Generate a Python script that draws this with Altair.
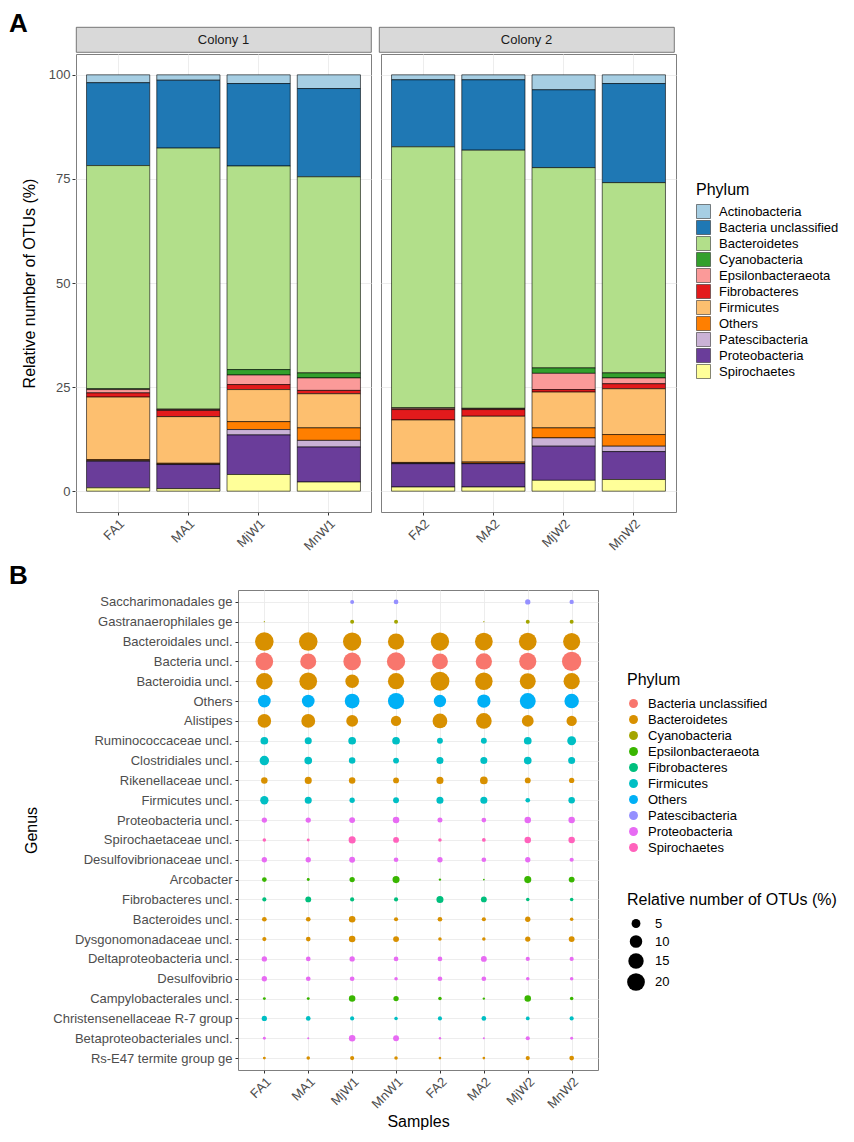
import altair as alt
import pandas as pd

FONT = "Liberation Sans"

samples = ["FA1", "MA1", "MjW1", "MnW1", "FA2", "MA2", "MjW2", "MnW2"]
colonies = ["Colony 1"] * 4 + ["Colony 2"] * 4

# ---------- Panel A: relative number of OTUs per phylum (%) ----------
phyla_a = ["Actinobacteria", "Bacteria unclassified", "Bacteroidetes", "Cyanobacteria",
           "Epsilonbacteraeota", "Fibrobacteres", "Firmicutes", "Others",
           "Patescibacteria", "Proteobacteria", "Spirochaetes"]
colors_a = ["#A6CEE3", "#1F78B4", "#B2DF8A", "#33A02C", "#FB9A99", "#E31A1C",
            "#FDBF6F", "#FF7F00", "#CAB2D6", "#6A3D9A", "#FFFF99"]

actinobacteria = [1.9, 1.3, 2.1, 3.3, 1.2, 1.2, 3.6, 2.1]
bacteria_unclassified = [19.9, 16.3, 19.8, 21.2, 16.1, 16.9, 18.7, 23.8]
bacteroidetes = [53.6, 62.7, 48.9, 47.1, 62.7, 62.0, 48.1, 45.7]
cyanobacteria = [0.2, 0.1, 1.3, 1.2, 0.1, 0.1, 1.3, 1.2]
epsilonbacteraeota = [0.8, 0.2, 2.3, 3.0, 0.3, 0.2, 3.9, 1.4]
fibrobacteres = [1.0, 1.5, 1.2, 0.8, 2.5, 1.6, 0.6, 1.2]
firmicutes = [15.0, 11.2, 7.7, 8.2, 10.2, 11.0, 8.6, 11.0]
others = [0.3, 0.2, 1.9, 3.0, 0.2, 0.3, 2.4, 2.8]
patescibacteria = [0.1, 0.1, 1.3, 1.6, 0.1, 0.1, 2.0, 1.3]
proteobacteria = [6.4, 5.8, 9.5, 8.4, 5.6, 5.6, 8.2, 6.7]
spirochaetes = [0.8, 0.6, 4.0, 2.2, 1.0, 1.0, 2.6, 2.8]

series_a = [actinobacteria, bacteria_unclassified, bacteroidetes, cyanobacteria,
            epsilonbacteraeota, fibrobacteres, firmicutes, others,
            patescibacteria, proteobacteria, spirochaetes]

rows_a = []
for k, (ph, vals) in enumerate(zip(phyla_a, series_a)):
    for s, c, v in zip(samples, colonies, vals):
        rows_a.append({"sample": s, "colony": c, "phylum": ph, "ord": k, "value": v})
df_a = pd.DataFrame(rows_a)

# ---------- Panel B: genus bubble chart ----------
phyla_b = ["Bacteria unclassified", "Bacteroidetes", "Cyanobacteria", "Epsilonbacteraeota",
           "Fibrobacteres", "Firmicutes", "Others", "Patescibacteria", "Proteobacteria",
           "Spirochaetes"]
colors_b = ["#F8766D", "#D89000", "#A3A500", "#39B600", "#00BF7D", "#00BFC4",
            "#00B0F6", "#9590FF", "#E76BF3", "#FF62BC"]

genera = ["Saccharimonadales ge", "Gastranaerophilales ge", "Bacteroidales uncl.",
          "Bacteria uncl.", "Bacteroidia uncl.", "Others", "Alistipes",
          "Ruminococcaceae uncl.", "Clostridiales uncl.", "Rikenellaceae uncl.",
          "Firmicutes uncl.", "Proteobacteria uncl.", "Spirochaetaceae uncl.",
          "Desulfovibrionaceae uncl.", "Arcobacter", "Fibrobacteres uncl.",
          "Bacteroides uncl.", "Dysgonomonadaceae uncl.", "Deltaproteobacteria uncl.",
          "Desulfovibrio", "Campylobacterales uncl.", "Christensenellaceae R-7 group",
          "Betaproteobacteriales uncl.", "Rs-E47 termite group ge"]
genus_phylum = ["Patescibacteria", "Cyanobacteria", "Bacteroidetes",
                "Bacteria unclassified", "Bacteroidetes", "Others", "Bacteroidetes",
                "Firmicutes", "Firmicutes", "Bacteroidetes",
                "Firmicutes", "Proteobacteria", "Spirochaetes",
                "Proteobacteria", "Epsilonbacteraeota", "Fibrobacteres",
                "Bacteroidetes", "Bacteroidetes", "Proteobacteria",
                "Proteobacteria", "Epsilonbacteraeota", "Firmicutes",
                "Proteobacteria", "Bacteroidetes"]
genus_values = [
    [0.0, 0.0, 1.0, 1.4, 0.0, 0.0, 1.8, 1.2],
    [0.1, 0.0, 1.0, 1.0, 0.0, 0.1, 1.0, 1.0],
    [22.0, 22.0, 21.4, 16.8, 21.4, 20.0, 20.0, 18.7],
    [19.9, 16.3, 19.8, 21.2, 16.1, 16.9, 18.7, 23.8],
    [17.5, 20.0, 11.8, 16.8, 22.8, 19.4, 16.2, 16.8],
    [10.3, 10.3, 13.9, 16.8, 9.8, 11.3, 16.2, 13.4],
    [11.8, 12.3, 8.9, 6.8, 13.9, 15.6, 8.9, 6.8],
    [3.8, 3.2, 3.8, 3.8, 2.2, 2.2, 3.8, 5.0],
    [5.7, 3.8, 2.7, 2.2, 3.2, 3.2, 3.8, 3.2],
    [2.7, 3.2, 2.7, 2.2, 3.2, 3.8, 2.2, 1.8],
    [4.4, 3.2, 1.8, 2.2, 3.2, 3.2, 1.4, 2.7],
    [1.8, 1.8, 2.2, 2.7, 1.6, 1.4, 2.7, 2.7],
    [0.8, 0.55, 3.2, 2.2, 0.8, 0.9, 2.7, 2.7],
    [1.8, 1.8, 2.2, 1.4, 1.8, 1.4, 1.8, 1.1],
    [1.4, 0.55, 1.8, 3.2, 0.36, 0.2, 3.2, 2.2],
    [1.1, 2.2, 1.1, 1.1, 3.2, 2.2, 0.8, 0.8],
    [1.4, 1.4, 2.7, 1.1, 1.4, 1.1, 1.8, 0.8],
    [1.1, 1.4, 2.7, 2.2, 0.8, 0.8, 1.8, 2.2],
    [1.8, 1.4, 1.8, 1.4, 1.4, 2.2, 1.1, 1.1],
    [1.8, 1.4, 1.4, 0.8, 1.4, 1.4, 0.8, 0.8],
    [0.55, 0.55, 2.7, 1.8, 0.8, 0.36, 2.7, 0.8],
    [1.8, 1.4, 1.1, 0.8, 1.1, 1.4, 0.9, 1.1],
    [0.55, 0.27, 2.7, 2.2, 0.36, 0.27, 1.1, 0.55],
    [0.55, 0.8, 1.1, 0.8, 0.45, 0.45, 1.1, 1.4],
]

rows_b = []
for g, ph, vals in zip(genera, genus_phylum, genus_values):
    for s, v in zip(samples, vals):
        rows_b.append({"sample": s, "genus": g, "phylum": ph, "value": v})
df_b = pd.DataFrame(rows_b)

strip_labels = ["Colony 1", "Colony 2"]
panel_letters = ["A", ""]
strip_df = pd.DataFrame({"colony": strip_labels, "letter": panel_letters})

AX_LABEL = dict(labelFont=FONT, labelFontSize=13, labelColor="#4D4D4D",
                titleFont=FONT, titleFontSize=16, titleFontWeight="normal",
                titleColor="#000000", tickColor="#333333", tickSize=3,
                domain=False, gridColor="#EBEBEB", gridWidth=0.9)

# ---------- Panel A charts ----------
strip_base = alt.Chart(strip_df)
strip_text = strip_base.mark_text(
    font=FONT, fontSize=13, color="#1A1A1A", baseline="middle"
).encode(x=alt.value(147.5), y=alt.value(12.5), text="colony:N")
letter_a = strip_base.mark_text(
    font=FONT, fontSize=26, fontWeight="bold", color="#000000",
    align="left", baseline="alphabetic"
).encode(x=alt.value(-67), y=alt.value(5), text="letter:N")

strip = alt.layer(strip_text, letter_a).properties(
    width=295, height=25,
    view=alt.ViewBackground(fill="#D9D9D9", stroke="#5A5A5A", strokeWidth=0.8)
).facet(column=alt.Column("colony:N", header=None), spacing=8, bounds="flush")

bars = alt.Chart(df_a).mark_bar(stroke="#000000", strokeWidth=0.6).encode(
    x=alt.X("sample:N", sort=samples,
            scale=alt.Scale(paddingInner=0.1, paddingOuter=0.15),
            axis=alt.Axis(title=None, labelAngle=-45, grid=True, labelPadding=2, **AX_LABEL)),
    y=alt.Y("value:Q", stack="zero",
            scale=alt.Scale(domain=[-5, 105], nice=False, zero=False),
            axis=alt.Axis(values=[0, 25, 50, 75, 100], title="Relative number of OTUs (%)",
                          grid=True, labelPadding=2, titlePadding=11, **AX_LABEL)),
    color=alt.Color("phylum:N", scale=alt.Scale(domain=phyla_a, range=colors_a),
                    legend=alt.Legend(title="Phylum", orient="none", legendX=620, legendY=128,
                                      symbolType="square", symbolSize=196,
                                      symbolStrokeColor="#333333", symbolStrokeWidth=0.6,
                                      symbolOpacity=1, rowPadding=-1, titlePadding=6,
                                      labelFont=FONT, labelFontSize=13, labelColor="#000000",
                                      titleFont=FONT, titleFontSize=16, titleFontWeight="normal",
                                      labelOffset=8)),
    order=alt.Order("ord:Q", sort="descending"),
).properties(
    width=295, height=458,
    view=alt.ViewBackground(stroke="#7F7F7F", strokeWidth=1)
).facet(column=alt.Column("colony:N", header=None), spacing=8).resolve_scale(x="independent")

a_block = alt.vconcat(strip, bars, spacing=0).resolve_scale(color="independent")

# ---------- Panel B charts ----------
spacer = alt.Chart(pd.DataFrame({"letter": ["B"]})).mark_text(
    font=FONT, fontSize=26, fontWeight="bold", color="#000000",
    align="left", baseline="alphabetic"
).encode(
    x=alt.value(-67), y=alt.value(-6), text="letter:N"
).properties(width=162, height=10, view=alt.ViewBackground(strokeOpacity=0))

bubbles = alt.Chart(df_b).mark_circle(opacity=1).encode(
    x=alt.X("sample:N", sort=samples, scale=alt.Scale(type="point", padding=0.6),
            axis=alt.Axis(title="Samples", labelAngle=-45, grid=True, labelPadding=2,
                          titlePadding=3, **AX_LABEL)),
    y=alt.Y("genus:N", sort=genera, scale=alt.Scale(type="point", padding=0.6),
            axis=alt.Axis(title="Genus", grid=True, labelPadding=3, titlePadding=13, **AX_LABEL)),
    color=alt.Color("phylum:N", scale=alt.Scale(domain=phyla_b, range=colors_b),
                    legend=alt.Legend(title="Phylum", orient="none", legendX=389, legendY=82,
                                      symbolType="circle", symbolSize=80, symbolOpacity=1,
                                      rowPadding=2, titlePadding=9,
                                      labelFont=FONT, labelFontSize=13, labelColor="#000000",
                                      titleFont=FONT, titleFontSize=16, titleFontWeight="normal",
                                      labelOffset=8)),
    size=alt.Size("value:Q", scale=alt.Scale(domain=[0, 20], range=[0, 314]),
                  legend=alt.Legend(title="Relative number of OTUs (%)", orient="none",
                                    legendX=389, legendY=302, values=[5, 10, 15, 20],
                                    symbolFillColor="#000000", symbolStrokeWidth=0,
                                    symbolOpacity=1, rowPadding=4, titlePadding=9,
                                    titleLimit=400,
                                    labelFont=FONT, labelFontSize=13, labelColor="#000000",
                                    titleFont=FONT, titleFontSize=16, titleFontWeight="normal",
                                    labelOffset=10)),
).properties(
    width=360, height=480,
    view=alt.ViewBackground(stroke="#7F7F7F", strokeWidth=1)
)

b_block = alt.hconcat(spacer, bubbles, spacing=0, bounds="flush").resolve_scale(
    color="independent", size="independent")

chart = alt.vconcat(a_block, b_block, spacing=9).resolve_scale(
    color="independent", size="independent"
).properties(
    padding={"left": 0, "top": 2, "right": 0, "bottom": 0}
).configure(background="white")

chart.save("out.html", embed_options={"renderer": "svg", "actions": False})
